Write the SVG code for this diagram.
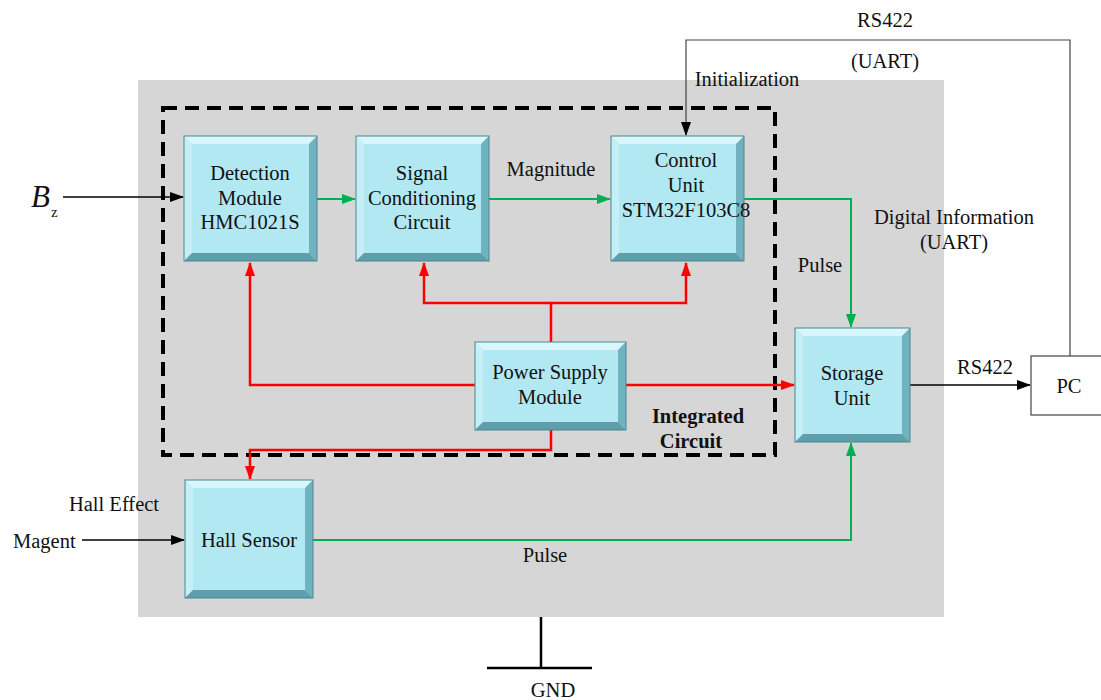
<svg xmlns="http://www.w3.org/2000/svg" width="1101" height="700" viewBox="0 0 1101 700">
  <defs>
    <style>
      text { font-family: "Liberation Serif", "Times New Roman", serif; font-size: 20.5px; fill: #111; }
      .c { text-anchor: middle; }
      .b { font-weight: bold; }
      .face { fill: #b2e8f2; }
      .top { fill: #d8f6fb; }
      .left { fill: #c4eff7; }
      .right { fill: #6fb3c0; }
      .bottom { fill: #5f9fab; }
      .edge { fill: none; stroke: #4d8590; stroke-width: 1; }
      .blk { fill: none; stroke: #000; stroke-width: 1.5; }
      .thin { fill: none; stroke: #444; stroke-width: 1.2; }
      .grn { fill: none; stroke: #00b050; stroke-width: 2; }
      .red { fill: none; stroke: #ff0000; stroke-width: 2.5; }
    </style>
    <marker id="ah-blk" markerWidth="14" markerHeight="12" refX="13" refY="6" orient="auto" markerUnits="userSpaceOnUse">
      <path d="M0,1 L14,6 L0,11 Z" fill="#000"/>
    </marker>
    <marker id="ah-grn" markerWidth="14" markerHeight="12" refX="13" refY="6" orient="auto" markerUnits="userSpaceOnUse">
      <path d="M0,1 L14,6 L0,11 Z" fill="#00b050"/>
    </marker>
    <marker id="ah-red" markerWidth="14" markerHeight="12" refX="13" refY="6" orient="auto" markerUnits="userSpaceOnUse">
      <path d="M0,1 L14,6 L0,11 Z" fill="#ff0000"/>
    </marker>
  </defs>

  <rect width="1101" height="700" fill="#fff"/>

  <!-- board background -->
  <rect x="138" y="80" width="806" height="537" fill="#d6d6d6"/>

  <!-- integrated circuit boundary -->
  <rect x="163" y="108" width="612" height="347" fill="none" stroke="#000" stroke-width="4" stroke-dasharray="14 8"/>
  <text class="b c" x="698" y="423">Integrated</text>
  <text class="b c" x="691" y="448">Circuit</text>

  <!-- connectors -->
  <g id="connectors">
    <!-- signal path -->
    <path class="blk" d="M63,197 H183" marker-end="url(#ah-blk)"/>
    <path class="grn" d="M317,199 H355" marker-end="url(#ah-grn)"/>
    <path class="grn" d="M489,199 H610" marker-end="url(#ah-grn)"/>
    <path class="grn" d="M744,199 H851 V327" marker-end="url(#ah-grn)"/>
    <path class="grn" d="M313,540 H851 V443" marker-end="url(#ah-grn)"/>
    <path class="blk" d="M82,540 H184" marker-end="url(#ah-blk)"/>

    <!-- power distribution -->
    <path class="red" d="M551,342 V303 H424 V263" marker-end="url(#ah-red)"/>
    <path class="red" d="M551,303 H686 V263" marker-end="url(#ah-red)"/>
    <path class="red" d="M475,385 H250 V263" marker-end="url(#ah-red)"/>
    <path class="red" d="M626,385 H794" marker-end="url(#ah-red)"/>
    <path class="red" d="M551,430 V450 H250 V479" marker-end="url(#ah-red)"/>

    <!-- external links -->
    <path class="blk" d="M910,385 H1030" marker-end="url(#ah-blk)"/>
    <path class="thin" d="M1070,356 V40 H686 V135" marker-end="url(#ah-blk)"/>

    <!-- ground -->
    <path d="M541,617 V668 M487,668 H592" fill="none" stroke="#000" stroke-width="2.5"/>
  </g>

  <!-- connector labels -->
  <text x="31" y="207" font-style="italic" style="font-size:31px">B</text>
  <text x="51" y="217" style="font-size:15px">z</text>
  <text class="c" x="551" y="176">Magnitude</text>
  <text class="c" x="820" y="272">Pulse</text>
  <text class="c" x="954" y="224">Digital Information</text>
  <text class="c" x="954" y="249">(UART)</text>
  <text class="c" x="747" y="86">Initialization</text>
  <text class="c" x="885" y="27">RS422</text>
  <text class="c" x="885" y="68">(UART)</text>
  <text class="c" x="985" y="374">RS422</text>
  <text class="c" x="545" y="562">Pulse</text>
  <text class="c" x="114" y="511">Hall Effect</text>
  <text x="13" y="548">Magent</text>
  <text class="c" x="553" y="697">GND</text>

  <!-- nodes -->
  <g id="detection">
    <polygon class="top" points="184,136 317,136 309,144 192,144"/>
    <polygon class="left" points="184,136 192,144 192,253 184,261"/>
    <polygon class="right" points="317,136 317,261 309,253 309,144"/>
    <polygon class="bottom" points="184,261 317,261 309,253 192,253"/>
    <rect class="face" x="192" y="144" width="117" height="109"/>
    <rect class="edge" x="184" y="136" width="133" height="125"/>
    <text class="c" x="250" y="180">Detection</text>
    <text class="c" x="250" y="205">Module</text>
    <text class="c" x="250" y="229">HMC1021S</text>
  </g>

  <g id="signal">
    <polygon class="top" points="356,136 489,136 481,144 364,144"/>
    <polygon class="left" points="356,136 364,144 364,253 356,261"/>
    <polygon class="right" points="489,136 489,261 481,253 481,144"/>
    <polygon class="bottom" points="356,261 489,261 481,253 364,253"/>
    <rect class="face" x="364" y="144" width="117" height="109"/>
    <rect class="edge" x="356" y="136" width="133" height="125"/>
    <text class="c" x="422" y="180">Signal</text>
    <text class="c" x="422" y="205">Conditioning</text>
    <text class="c" x="422" y="229">Circuit</text>
  </g>

  <g id="control">
    <polygon class="top" points="611,136 744,136 736,144 619,144"/>
    <polygon class="left" points="611,136 619,144 619,253 611,261"/>
    <polygon class="right" points="744,136 744,261 736,253 736,144"/>
    <polygon class="bottom" points="611,261 744,261 736,253 619,253"/>
    <rect class="face" x="619" y="144" width="117" height="109"/>
    <rect class="edge" x="611" y="136" width="133" height="125"/>
    <text class="c" x="686" y="167">Control</text>
    <text class="c" x="686" y="192">Unit</text>
    <text class="c" x="686" y="217">STM32F103C8</text>
  </g>

  <g id="power">
    <polygon class="top" points="475,342 626,342 618,350 483,350"/>
    <polygon class="left" points="475,342 483,350 483,422 475,430"/>
    <polygon class="right" points="626,342 626,430 618,422 618,350"/>
    <polygon class="bottom" points="475,430 626,430 618,422 483,422"/>
    <rect class="face" x="483" y="350" width="135" height="72"/>
    <rect class="edge" x="475" y="342" width="151" height="88"/>
    <text class="c" x="550" y="379">Power Supply</text>
    <text class="c" x="550" y="404">Module</text>
  </g>

  <g id="storage">
    <polygon class="top" points="795,328 910,328 902,336 803,336"/>
    <polygon class="left" points="795,328 803,336 803,434 795,442"/>
    <polygon class="right" points="910,328 910,442 902,434 902,336"/>
    <polygon class="bottom" points="795,442 910,442 902,434 803,434"/>
    <rect class="face" x="803" y="336" width="99" height="98"/>
    <rect class="edge" x="795" y="328" width="115" height="114"/>
    <text class="c" x="852" y="380">Storage</text>
    <text class="c" x="852" y="405">Unit</text>
  </g>

  <g id="hall">
    <polygon class="top" points="185,480 313,480 305,488 193,488"/>
    <polygon class="left" points="185,480 193,488 193,590 185,598"/>
    <polygon class="right" points="313,480 313,598 305,590 305,488"/>
    <polygon class="bottom" points="185,598 313,598 305,590 193,590"/>
    <rect class="face" x="193" y="488" width="112" height="102"/>
    <rect class="edge" x="185" y="480" width="128" height="118"/>
    <text class="c" x="249" y="547">Hall Sensor</text>
  </g>

  <g id="pc">
    <rect x="1031" y="356" width="75" height="59" fill="#fff" stroke="#444" stroke-width="1.2"/>
    <text class="c" x="1069" y="393">PC</text>
  </g>
</svg>
